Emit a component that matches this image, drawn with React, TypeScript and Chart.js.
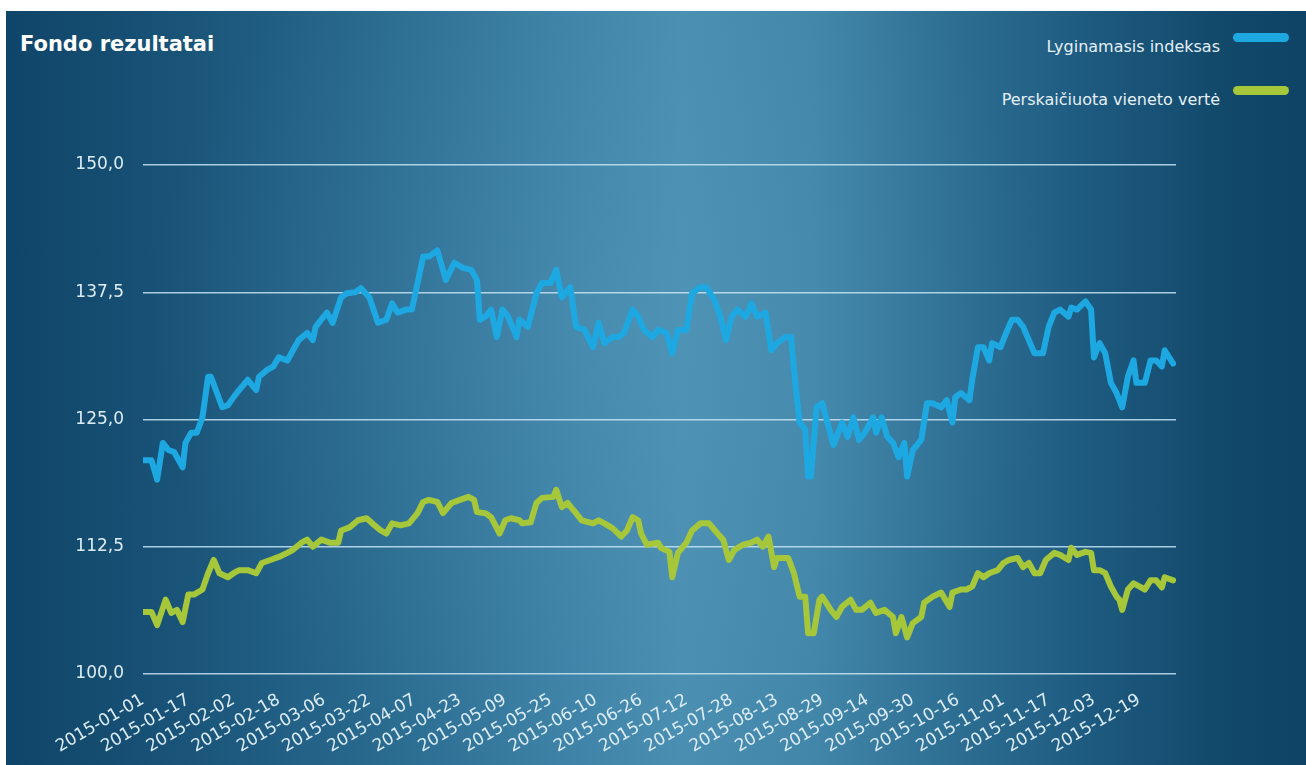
import React, { useEffect, useRef } from 'react';
import { Chart, registerables } from 'chart.js';

Chart.register(...registerables);

const tickLabels = [
  '2015-01-01', '2015-01-17', '2015-02-02', '2015-02-18', '2015-03-06', '2015-03-22',
  '2015-04-07', '2015-04-23', '2015-05-09', '2015-05-25', '2015-06-10', '2015-06-26',
  '2015-07-12', '2015-07-28', '2015-08-13', '2015-08-29', '2015-09-14', '2015-09-30',
  '2015-10-16', '2015-11-01', '2015-11-17', '2015-12-03', '2015-12-19',
];

const seriesNames = ['Lyginamasis indeksas', 'Perskaičiuota vieneto vertė'];

// day offsets from 2015-01-01
const indexDays = [
  0, 3, 5, 7, 9, 11, 14, 15, 17, 19, 21, 23, 24, 28, 30, 32, 34, 37, 40, 41, 44, 46, 48, 51, 53, 55,
  58, 60, 61, 63, 65, 67, 70, 72, 75, 77, 80, 83, 86, 88, 90, 93, 95, 99, 101, 104, 107, 110, 113,
  116, 118, 119, 121, 123, 125, 127, 129, 132, 133, 136, 139, 141, 144, 146, 148, 151, 153, 156,
  159, 161, 163, 166, 168, 170, 173, 175, 177, 180, 182, 185, 187, 189, 192, 194, 197, 199, 202,
  204, 206, 208, 210, 213, 215, 217, 220, 222, 224, 227, 229, 230, 232, 234, 235, 236, 238, 240,
  242, 244, 247, 249, 251, 253, 255, 258, 259, 261, 263, 265, 267, 269, 270, 272, 275, 277, 279,
  282, 284, 286, 287, 289, 292, 293, 295, 297, 299, 300, 303, 305, 307, 309, 311, 313, 315, 318,
  320, 322, 324, 327, 328, 330, 333, 335, 336, 338, 340, 342, 344, 346, 348, 350, 351, 354, 356,
  358, 360, 361, 364,
];
const indexValues = [
  121.0, 121.0, 119.1, 122.7, 122.0, 121.8, 120.3, 122.7, 123.7, 123.7, 125.2, 129.2, 129.2, 126.2,
  126.4, 127.2, 127.9, 128.9, 127.9, 129.2, 129.9, 130.2, 131.1, 130.8, 131.8, 132.8, 133.5, 132.8,
  134.1, 134.8, 135.5, 134.5, 137.0, 137.4, 137.5, 137.9, 137.0, 134.5, 134.8, 136.4, 135.5, 135.8,
  135.8, 141.0, 141.0, 141.6, 138.7, 140.4, 139.9, 139.7, 138.7, 134.8, 135.1, 135.8, 133.1, 135.8,
  135.1, 133.1, 134.8, 134.1, 137.4, 138.4, 138.4, 139.7, 137.0, 138.0, 134.1, 133.8, 132.1, 134.5,
  132.5, 133.1, 133.1, 133.5, 135.8, 135.1, 133.8, 133.1, 133.8, 133.5, 131.5, 133.8, 133.8, 137.4,
  138.0, 138.0, 136.7, 135.1, 132.8, 135.1, 135.8, 135.1, 136.4, 135.1, 135.5, 131.8, 132.5, 133.1,
  133.1, 129.9, 124.7, 124.0, 119.4, 119.4, 126.2, 126.6, 124.5, 122.5, 124.7, 123.3, 125.2, 123.0,
  123.7, 125.2, 123.7, 125.2, 123.3, 122.7, 121.3, 122.7, 119.4, 122.0, 123.0, 126.6, 126.6, 126.2,
  126.9, 124.7, 127.2, 127.6, 126.9, 128.9, 132.1, 132.1, 130.8, 132.5, 132.1, 133.5, 134.8, 134.8,
  134.1, 132.8, 131.5, 131.5, 134.1, 135.5, 135.8, 135.1, 136.0, 135.8, 136.6, 135.8, 131.1, 132.5,
  131.5, 128.6, 127.6, 126.2, 129.2, 130.8, 128.6, 128.6, 130.8, 130.8, 130.2, 131.8, 130.5,
];

const navDays = [
  0, 3, 5, 8, 10, 12, 14, 16, 18, 21, 23, 25, 27, 30, 32, 34, 37, 40, 42, 45, 48, 51, 53, 56, 58,
  60, 63, 66, 69, 70, 73, 76, 79, 81, 84, 86, 88, 91, 94, 97, 99, 101, 104, 106, 109, 112, 115, 117,
  118, 121, 123, 126, 128, 130, 133, 134, 137, 139, 141, 145, 146, 148, 150, 153, 155, 159, 161,
  163, 166, 169, 171, 173, 175, 176, 178, 182, 183, 186, 187, 189, 192, 194, 197, 200, 203, 205,
  207, 209, 212, 215, 217, 219, 221, 223, 224, 228, 230, 232, 234, 235, 237, 239, 240, 243, 245,
  247, 250, 252, 254, 257, 259, 262, 265, 266, 268, 270, 272, 275, 276, 279, 282, 285, 286, 289,
  291, 293, 295, 297, 299, 302, 304, 306, 309, 311, 313, 315, 317, 319, 322, 324, 327, 328, 330,
  333, 335, 336, 338, 340, 342, 344, 345, 346, 348, 350, 352, 354, 356, 358, 360, 361, 364,
];
const navValues = [
  106.1, 106.1, 104.8, 107.3, 106.0, 106.3, 105.1, 107.8, 107.8, 108.3, 109.9, 111.2, 109.9, 109.5,
  109.9, 110.2, 110.2, 109.9, 110.9, 111.2, 111.5, 111.9, 112.2, 112.9, 113.2, 112.5, 113.2, 112.9,
  112.9, 114.1, 114.4, 115.1, 115.3, 114.8, 114.1, 113.8, 114.8, 114.6, 114.8, 115.8, 116.9, 117.1,
  116.9, 115.8, 116.8, 117.1, 117.4, 117.1, 115.9, 115.8, 115.4, 113.8, 115.1, 115.3, 115.1, 114.8,
  114.9, 116.8, 117.3, 117.4, 118.1, 116.4, 116.8, 115.8, 115.1, 114.8, 115.1, 114.8, 114.3, 113.5,
  114.1, 115.4, 115.1, 113.8, 112.7, 112.9, 112.4, 112.0, 109.5, 111.9, 112.9, 114.1, 114.8, 114.8,
  113.8, 113.2, 111.2, 112.2, 112.7, 112.9, 113.2, 112.5, 113.5, 110.5, 111.4, 111.4, 109.9, 107.6,
  107.6, 104.0, 104.0, 107.3, 107.6, 106.3, 105.6, 106.6, 107.3, 106.3, 106.3, 107.0, 106.0, 106.3,
  105.6, 104.0, 105.6, 103.6, 105.0, 105.6, 107.0, 107.6, 108.0, 106.6, 108.0, 108.3, 108.3, 108.6,
  109.9, 109.5, 109.9, 110.2, 110.9, 111.2, 111.4, 110.5, 110.9, 109.9, 109.9, 111.2, 111.9, 111.7,
  111.2, 112.4, 111.7, 112.0, 111.9, 110.2, 110.2, 109.9, 108.6, 107.6, 107.3, 106.3, 108.3, 108.9,
  108.6, 108.3, 109.2, 109.2, 108.5, 109.5, 109.2,
];

const BLUE = '#1ea8e2';
const GREEN = '#a6c73a';
const TEXT = '#dcecf5';
const GRID = 'rgba(200,228,244,0.85)';

const BG =
  'linear-gradient(90deg, #0f4568 0%, #1a5479 14%, #2b6c91 30%, #3f84a8 44%, #4a8fb1 52%, #4287aa 62%, #2f7095 72%, #1d597e 84%, #124a6c 93%, #0e4365 100%)';

export default function App() {
  const ref = useRef<HTMLCanvasElement>(null);

  useEffect(() => {
    if (!ref.current) return;
    const chart = new Chart(ref.current, {
      type: 'line',
      data: {
        datasets: [
          {
            label: seriesNames[0],
            data: indexDays.map((d, i) => ({ x: d, y: indexValues[i] })),
            borderColor: BLUE,
            backgroundColor: BLUE,
            borderWidth: 6,
            pointRadius: 0,
            tension: 0,
            borderJoinStyle: 'round',
            borderCapStyle: 'round',
          },
          {
            label: seriesNames[1],
            data: navDays.map((d, i) => ({ x: d, y: navValues[i] })),
            borderColor: GREEN,
            backgroundColor: GREEN,
            borderWidth: 6,
            pointRadius: 0,
            tension: 0,
            borderJoinStyle: 'round',
            borderCapStyle: 'round',
          },
        ],
      },
      options: {
        animation: false,
        responsive: true,
        maintainAspectRatio: false,
        layout: { padding: { top: 154, right: 130, left: 0, bottom: 0 } },
        plugins: {
          legend: { display: false },
          tooltip: { enabled: false },
        },
        scales: {
          x: {
            type: 'linear',
            min: 0,
            max: 365,
            grid: { display: false },
            border: { display: false },
            ticks: {
              stepSize: 16,
              includeBounds: false,
              autoSkip: false,
              maxTicksLimit: 40,
              maxRotation: 30,
              minRotation: 30,
              padding: 8,
              color: TEXT,
              font: { family: 'DejaVu Sans', size: 17 },
              callback: (v: any) => tickLabels[Math.round(Number(v) / 16)] ?? '',
            },
            afterFit: (s: any) => {
              s.height = 91;
            },
          },
          y: {
            min: 100,
            max: 150,
            ticks: {
              stepSize: 12.5,
              padding: 19,
              color: TEXT,
              font: { family: 'DejaVu Sans', size: 17 },
              callback: (v: any) => Number(v).toFixed(1).replace('.', ','),
            },
            grid: { color: GRID, lineWidth: 1.5, drawTicks: false },
            border: { display: false },
            afterFit: (s: any) => {
              s.width = 137;
            },
          },
        },
      },
    });
    return () => chart.destroy();
  }, []);

  const legendText: React.CSSProperties = {
    position: 'absolute',
    right: 86,
    fontFamily: 'DejaVu Sans',
    fontSize: 16,
    lineHeight: '18px',
    color: '#e4f0f7',
    whiteSpace: 'nowrap',
  };
  const swatch: React.CSSProperties = {
    position: 'absolute',
    left: 1227,
    width: 56,
    height: 9,
    borderRadius: 5,
  };

  return (
    <div
      style={{
        position: 'absolute',
        left: 6,
        top: 11,
        width: 1300,
        height: 754,
        background: BG,
        overflow: 'hidden',
      }}
    >
      <div
        style={{
          position: 'absolute',
          left: 0,
          top: 0,
          width: '100%',
          height: '100%',
          background:
            'radial-gradient(ellipse 35% 60% at 46% 42%, rgba(95,160,195,0.25), rgba(95,160,195,0) 100%)',
        }}
      />
      <div
        style={{
          position: 'absolute',
          left: 14,
          top: 21,
          fontFamily: 'DejaVu Sans',
          fontWeight: 'bold',
          fontSize: 21,
          color: '#ffffff',
        }}
      >
        Fondo rezultatai
      </div>
      <div style={{ ...legendText, top: 27 }}>{seriesNames[0]}</div>
      <div style={{ ...swatch, top: 22, background: BLUE }} />
      <div style={{ ...legendText, top: 80 }}>{seriesNames[1]}</div>
      <div style={{ ...swatch, top: 75, background: GREEN }} />
      <div style={{ position: 'absolute', left: 0, top: 0, width: 1300, height: 754 }}>
        <canvas ref={ref} />
      </div>
    </div>
  );
}
